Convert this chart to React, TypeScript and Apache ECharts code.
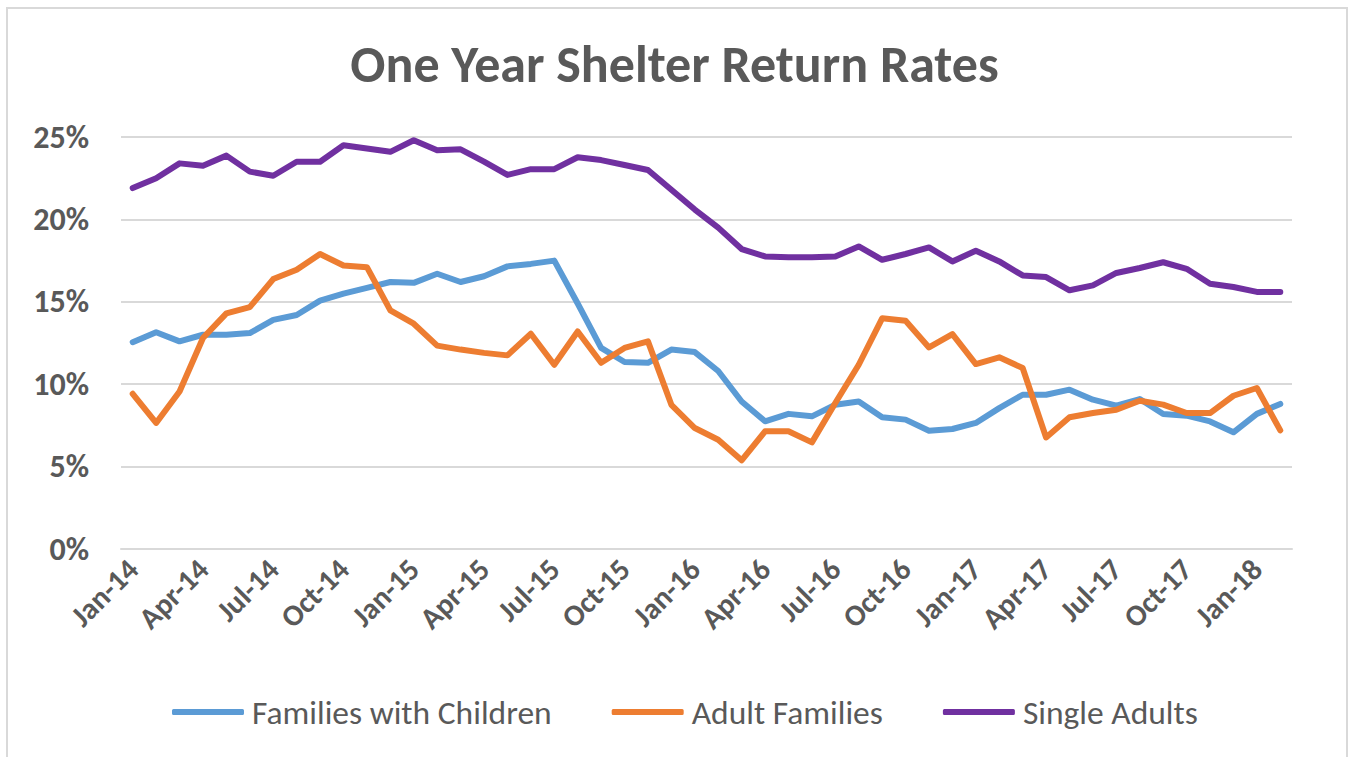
import React, { useEffect, useRef } from "react";
import * as echarts from "echarts";

const categories = [
  "Jan-14","Feb-14","Mar-14","Apr-14","May-14","Jun-14","Jul-14","Aug-14","Sep-14","Oct-14","Nov-14","Dec-14",
  "Jan-15","Feb-15","Mar-15","Apr-15","May-15","Jun-15","Jul-15","Aug-15","Sep-15","Oct-15","Nov-15","Dec-15",
  "Jan-16","Feb-16","Mar-16","Apr-16","May-16","Jun-16","Jul-16","Aug-16","Sep-16","Oct-16","Nov-16","Dec-16",
  "Jan-17","Feb-17","Mar-17","Apr-17","May-17","Jun-17","Jul-17","Aug-17","Sep-17","Oct-17","Nov-17","Dec-17",
  "Jan-18","Feb-18",
];

const familiesWithChildren = [
  12.55, 13.15, 12.6, 13.0, 13.0, 13.1, 13.9, 14.2, 15.07, 15.5,
  15.85, 16.2, 16.15, 16.7, 16.2, 16.55, 17.15, 17.3, 17.5, 14.9,
  12.2, 11.35, 11.3, 12.1, 11.95, 10.8, 8.95, 7.75, 8.2, 8.05,
  8.75, 8.95, 8.0, 7.85, 7.18, 7.28, 7.65, 8.55, 9.36, 9.36,
  9.67, 9.06, 8.7, 9.1, 8.19, 8.09, 7.74, 7.08, 8.2, 8.8,
];

const adultFamilies = [
  9.42, 7.65, 9.56, 12.8, 14.3, 14.68, 16.38, 16.95, 17.9, 17.2,
  17.1, 14.48, 13.67, 12.34, 12.1, 11.9, 11.75, 13.06, 11.18, 13.2,
  11.3, 12.2, 12.6, 8.75, 7.34, 6.63, 5.38, 7.14, 7.14, 6.47,
  8.86, 11.18, 14.0, 13.85, 12.23, 13.04, 11.22, 11.63, 10.98, 6.77,
  7.99, 8.25, 8.45, 9.0, 8.76, 8.25, 8.25, 9.3, 9.77, 7.2,
];

const singleAdults = [
  21.9, 22.5, 23.4, 23.26, 23.87, 22.9, 22.65, 23.5, 23.5, 24.5,
  24.3, 24.1, 24.8, 24.2, 24.25, 23.5, 22.7, 23.05, 23.05, 23.77,
  23.6, 23.3, 23.0, 21.8, 20.6, 19.5, 18.2, 17.75, 17.7, 17.7,
  17.75, 18.36, 17.55, 17.9, 18.3, 17.45, 18.1, 17.45, 16.6, 16.5,
  15.7, 16.0, 16.75, 17.05, 17.4, 17.0, 16.1, 15.9, 15.6, 15.6,
];

const seriesNames = ["Families with Children", "Adult Families", "Single Adults"];
const seriesColors = ["#5b9bd5", "#ed7d31", "#7030a0"];

const FONT = "Carlito, Lato, 'Open Sans', sans-serif";
const TEXT = "#595959";
const GRID = "#d9d9d9";

export default function App() {
  const ref = useRef<HTMLDivElement>(null);
  useEffect(() => {
    if (!ref.current) return;
    const chart = echarts.init(ref.current, null, { renderer: "svg" });
    const data = [familiesWithChildren, adultFamilies, singleAdults];
    chart.setOption({
      animation: false,
      backgroundColor: "#ffffff",
      textStyle: { fontFamily: FONT },
      title: {
        text: "One Year Shelter Return Rates",
        left: "center",
        top: 33,
        textStyle: { fontFamily: FONT, fontSize: 52, fontWeight: "bold", color: TEXT },
      },
      graphic: [
        {
          type: "rect",
          shape: { x: 7, y: 8, width: 1340, height: 770 },
          style: { fill: "none", stroke: GRID, lineWidth: 2 },
          silent: true,
        },
      ],
      legend: {
        data: seriesNames,
        top: 690,
        left: 167,
        icon: "roundRect",
        itemWidth: 72,
        itemHeight: 6,
        itemGap: 60,
        textStyle: { fontFamily: FONT, fontSize: 33.5, color: TEXT, padding: [0, 0, 0, 3] },
      },
      grid: { left: 121, right: 57, top: 137, bottom: 208, containLabel: false },
      xAxis: {
        type: "category",
        data: categories,
        boundaryGap: true,
        axisLine: { lineStyle: { color: GRID, width: 2 } },
        axisTick: { interval: 2, length: 9, lineStyle: { color: GRID, width: 2 } },
        axisLabel: {
          interval: 2,
          rotate: 45,
          margin: 15,
          fontFamily: FONT,
          fontSize: 30,
          fontWeight: "bold",
          color: TEXT,
        },
        splitLine: { show: false },
      },
      yAxis: {
        type: "value",
        min: 0,
        max: 25,
        interval: 5,
        axisLine: { show: false },
        axisTick: { show: false },
        axisLabel: {
          formatter: "{value}%",
          margin: 32,
          fontFamily: FONT,
          fontSize: 32,
          fontWeight: "bold",
          color: TEXT,
        },
        splitLine: { lineStyle: { color: GRID, width: 2 } },
      },
      series: seriesNames.map((name, i) => ({
        name,
        type: "line",
        data: data[i],
        showSymbol: false,
        symbol: "none",
        color: seriesColors[i],
        lineStyle: { width: 6, color: seriesColors[i], cap: "round", join: "round" },
      })),
    });
    return () => chart.dispose();
  }, []);
  return (
    <div
      ref={ref}
      style={{ position: "absolute", left: 0, top: 0, width: 1349, height: 757 }}
    />
  );
}
